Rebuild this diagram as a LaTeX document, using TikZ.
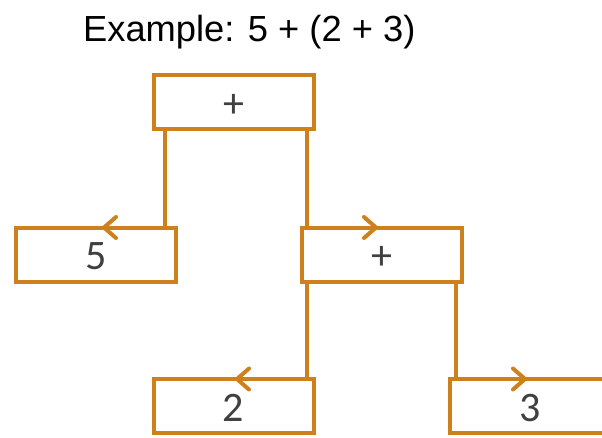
\documentclass[tikz,border=0pt]{standalone}
\usepackage{fontspec}
\setmainfont{Carlito}
\newfontfamily\titlefont{Liberation Sans}
\usetikzlibrary{arrows.meta,calc}
\definecolor{treeorange}{RGB}{206,128,28}
\definecolor{boxtext}{RGB}{64,64,64}
\tikzset{
  treebox/.style={draw=treeorange, line width=4pt, fill=white, minimum width=160pt, minimum height=54pt,
    inner sep=0pt, outer sep=0pt, text=boxtext, font=\fontsize{42}{48}\selectfont,
    text height=32pt, text depth=2pt},
  treelink/.style={draw=treeorange, line width=4pt,
    -{Straight Barb[length=12pt,width=21pt,line cap=round,line join=round]}},
}
\begin{document}
\begin{tikzpicture}[x=1pt,y=-1pt]
\clip (0,0) rectangle (602,437);
\fill[white] (0,0) rectangle (602,437);
\node[anchor=base west, inner sep=0pt, font=\titlefont\fontsize{36.3}{40}\selectfont] (title) at (83,41) {Example: 5 + (2 + 3)};
\node[treebox] (top) at (234,102) {+};
\node[treebox] (five) at (96,254.5) {5};
\node[treebox] (mid) at (381.5,254.5) {+};
\node[treebox] (two) at (233.5,406) {2};
\node[treebox] (three) at (530,406) {3};
\draw[treelink] ($(top.south west)+(11,0)$) |- ($(five.north)+(6,0)$);
\draw[treelink] ($(top.south east)+(-7,0)$) |- ($(mid.north)+(-3.5,0)$);
\draw[treelink] ($(mid.south west)+(5,0)$) |- ($(two.north)+(1.5,0)$);
\draw[treelink] ($(mid.south east)+(-6,0)$) |- ($(three.north)+(-3,0)$);
\end{tikzpicture}
\end{document}
